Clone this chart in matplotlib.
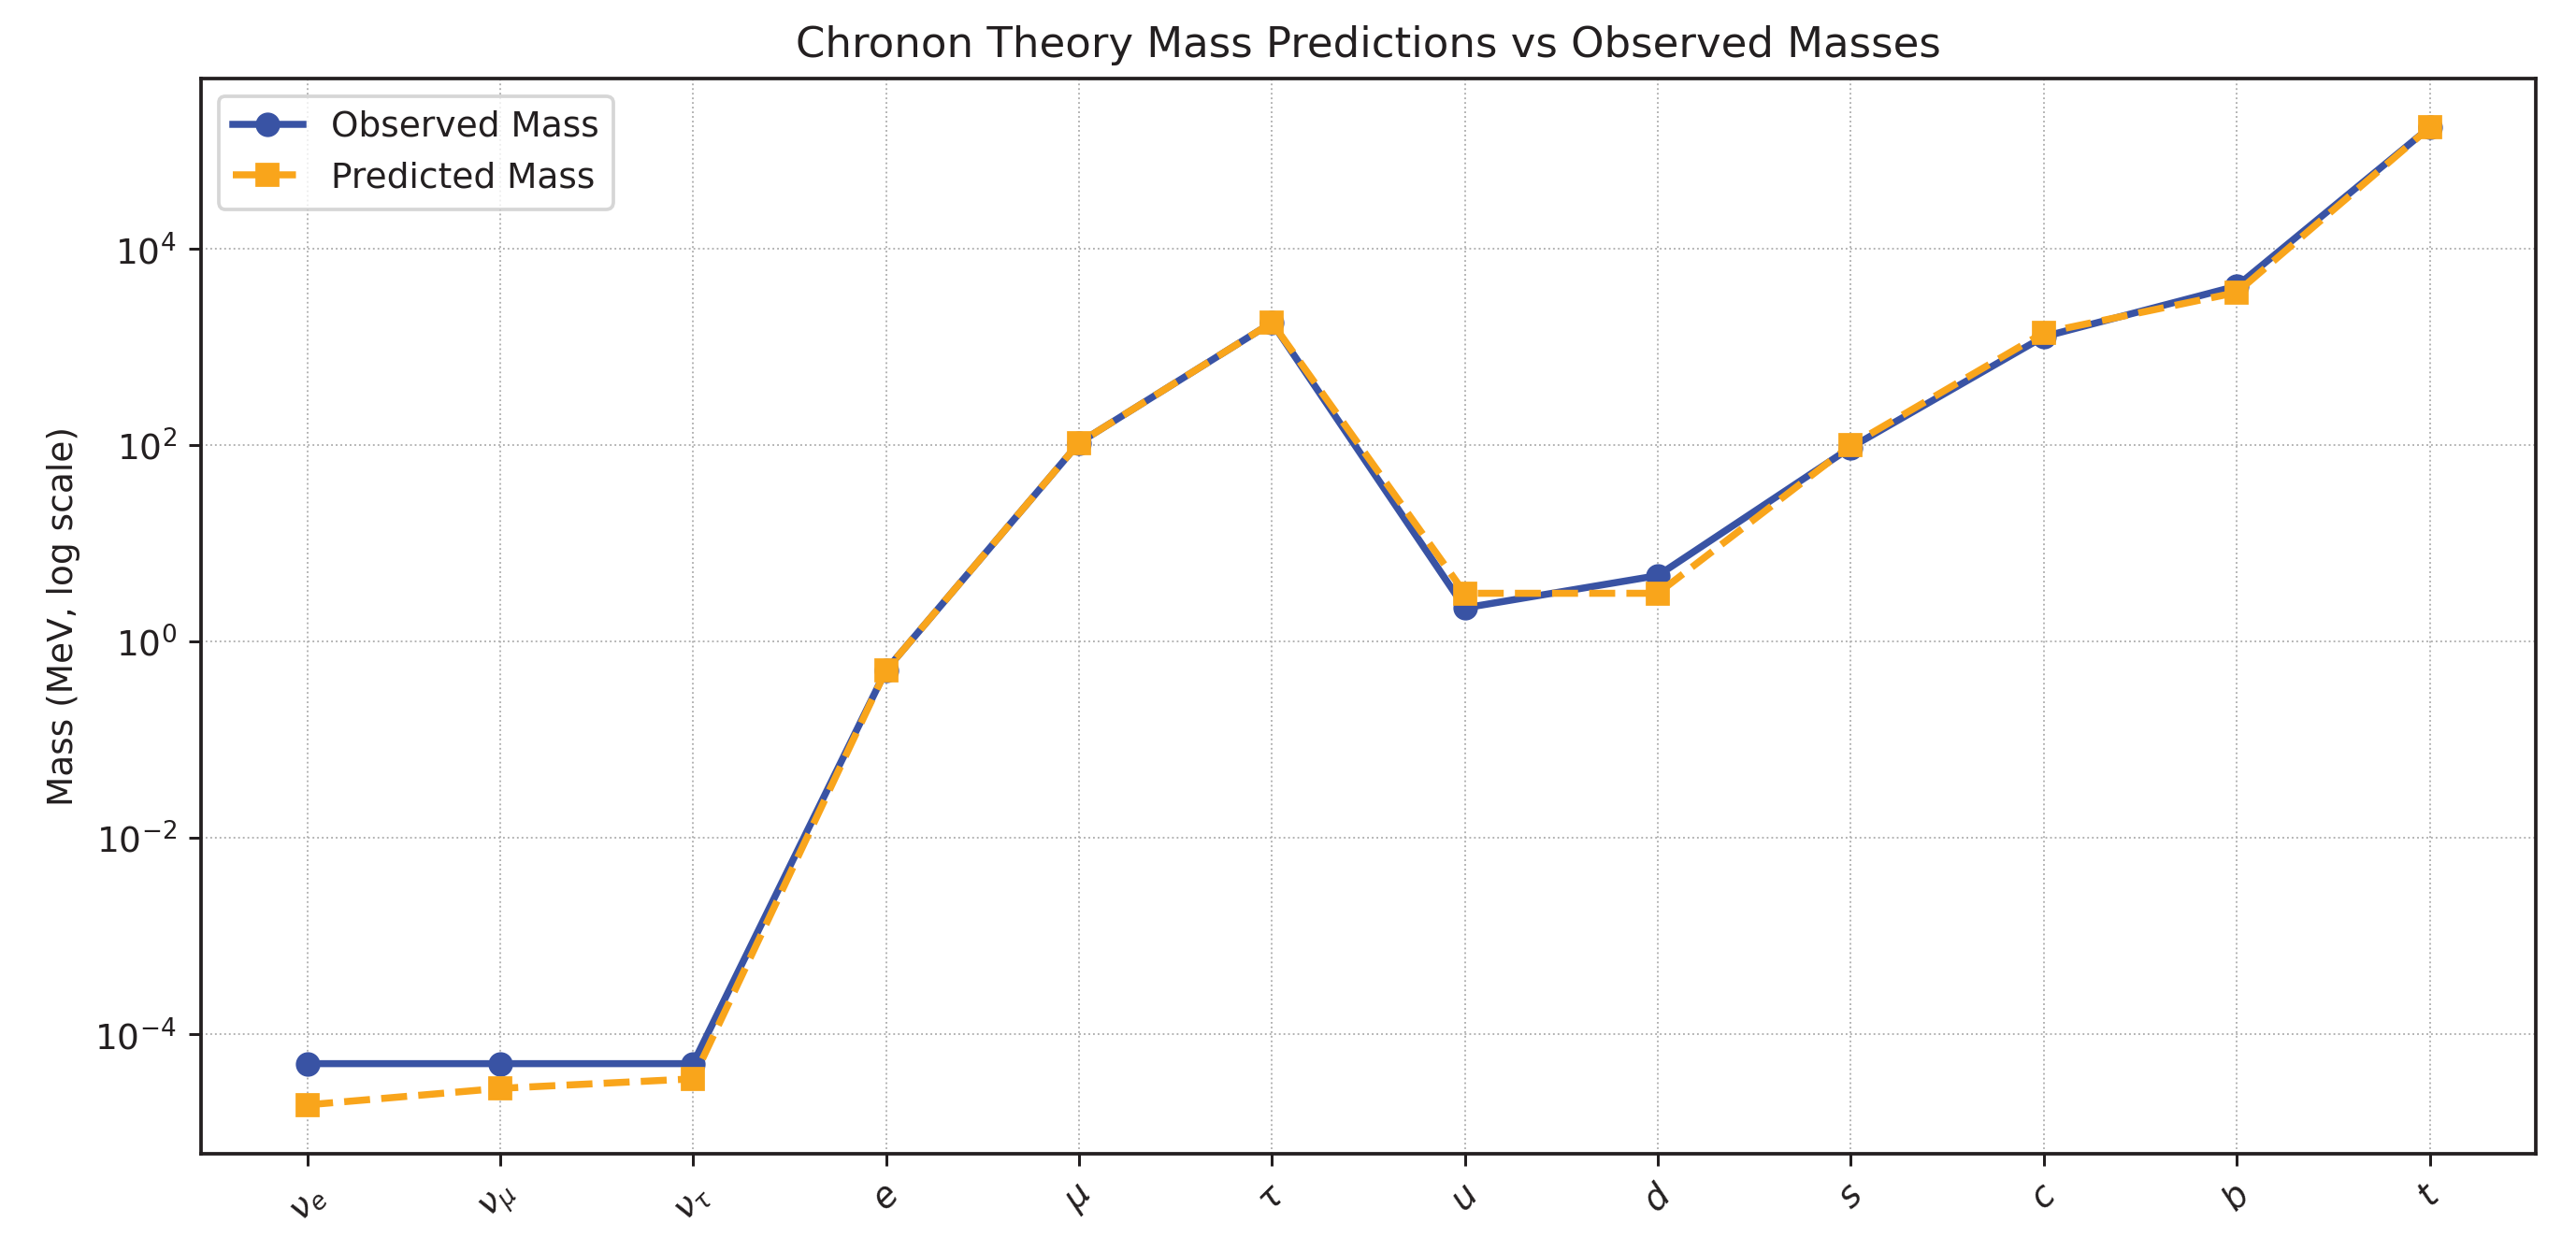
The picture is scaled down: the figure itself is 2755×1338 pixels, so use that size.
import matplotlib
matplotlib.use("Agg")
import matplotlib.pyplot as plt

# Particle labels (mathtext) and masses in MeV
particles = [r'$\nu_e$', r'$\nu_\mu$', r'$\nu_\tau$', r'$e$', r'$\mu$', r'$\tau$',
             r'$u$', r'$d$', r'$s$', r'$c$', r'$b$', r'$t$']
observed_mass = [5e-5, 5e-5, 5e-5, 0.511, 105.7, 1777, 2.2, 4.7, 95, 1275, 4180, 173000]
predicted_mass = [1.9e-5, 2.8e-5, 3.5e-5, 0.511, 105.7, 1777, 3.1, 3.1, 100, 1400, 3600, 173000]

BLUE = '#3953a4'
ORANGE = '#f9a51b'
INK = '#231f20'

plt.rcParams['axes.linewidth'] = 1.0
plt.rcParams['text.color'] = INK
plt.rcParams['axes.labelcolor'] = INK
plt.rcParams['xtick.color'] = INK
plt.rcParams['ytick.color'] = INK
plt.rcParams['axes.edgecolor'] = INK

fig = plt.figure(figsize=(2755 / 270, 1338 / 270), dpi=270)
ax = fig.add_axes([215 / 2755, 1 - 1234 / 1338, (2712 - 215) / 2755, (1234 - 84) / 1338])

x = list(range(len(particles)))
ax.plot(x, observed_mass, marker='o', linestyle='-', linewidth=2, color=BLUE, label='Observed Mass')
ax.plot(x, predicted_mass, marker='s', linestyle='--', linewidth=2, color=ORANGE, label='Predicted Mass')

ax.set_yscale('log')
ax.set_xticks(x)
ax.set_xticklabels(particles, rotation=45)
ax.set_ylabel('Mass (MeV, log scale)')
ax.set_title('Chronon Theory Mass Predictions vs Observed Masses')
ax.grid(True, linestyle=':', linewidth=0.5)
ax.legend(loc='upper left')

fig.savefig('out.png', dpi=270)
